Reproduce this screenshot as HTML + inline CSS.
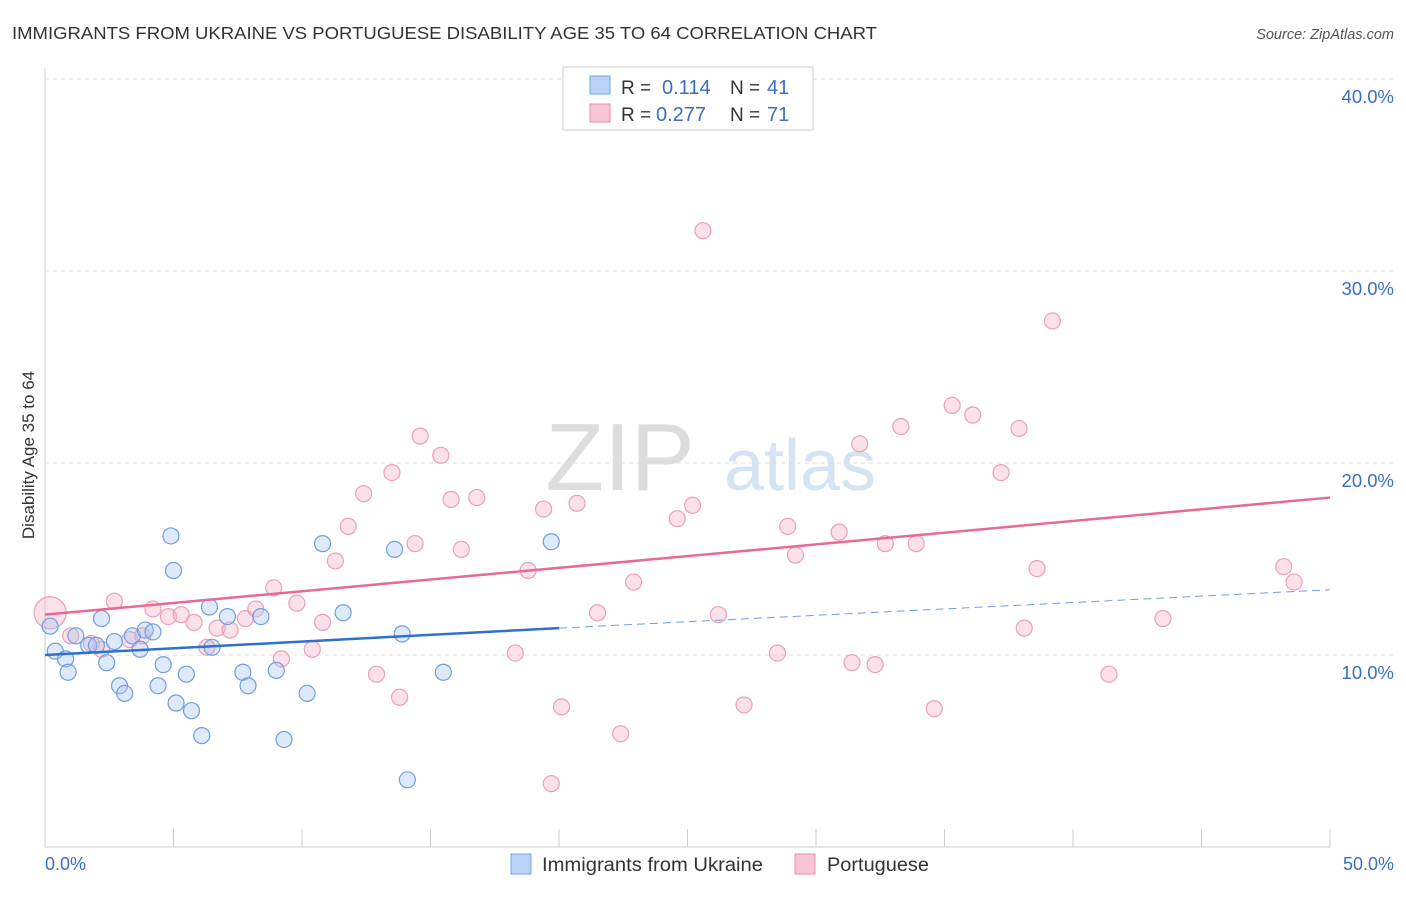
<!DOCTYPE html>
<html><head><meta charset="utf-8"><style>
body{margin:0;background:#fff;font-family:"Liberation Sans",sans-serif}
svg text{font-family:"Liberation Sans",sans-serif}
</style></head><body>
<svg id="c" width="1406" height="892">
<text x="12" y="39" font-size="17.5" fill="#333" textLength="865" lengthAdjust="spacingAndGlyphs">IMMIGRANTS FROM UKRAINE VS PORTUGUESE DISABILITY AGE 35 TO 64 CORRELATION CHART</text>
<text x="1394" y="39" font-size="14.5" fill="#555" font-style="italic" text-anchor="end">Source: ZipAtlas.com</text>
<text x="620" y="490" font-size="96" fill="#ddd" font-family="Liberation Serif" text-anchor="middle">ZIP</text>
<text x="800" y="490" font-size="72" fill="#d5e3f3" text-anchor="middle">atlas</text>
<g id="grid"></g><g id="pts"></g><g id="lines"></g>
<text x="34" y="455" font-size="17" fill="#333" text-anchor="middle" transform="rotate(-90 34 455)">Disability Age 35 to 64</text>
<text x="45" y="870" font-size="18" fill="#3a6fc4">0.0%</text>
<text x="1394" y="870" font-size="18" fill="#3a6fc4" text-anchor="end">50.0%</text>
<g>
<rect x="563" y="67" width="250" height="63" fill="#fff" stroke="#ccc"/>
<rect x="590" y="76" width="20" height="18" fill="#b8d3f5" stroke="#7aa6e0"/>
<rect x="590" y="104" width="20" height="18" fill="#f9c4d4" stroke="#e891ad"/>
<text x="621" y="94" font-size="19" fill="#333">R =</text>
<text x="662" y="94" font-size="20" fill="#3a6fc4">0.114</text>
<text x="730" y="94" font-size="19" fill="#333">N =</text>
<text x="767" y="94" font-size="20" fill="#3a6fc4">41</text>
<text x="621" y="121" font-size="19" fill="#333">R =</text>
<text x="656" y="121" font-size="20" fill="#3a6fc4">0.277</text>
<text x="730" y="121" font-size="19" fill="#333">N =</text>
<text x="767" y="121" font-size="20" fill="#3a6fc4">71</text>
</g>
<g>
<rect x="511" y="854" width="20" height="20" fill="#b8d3f5" stroke="#7aa6e0"/>
<text x="542" y="871" font-size="19" fill="#333" textLength="221" lengthAdjust="spacingAndGlyphs">Immigrants from Ukraine</text>
<rect x="795" y="854" width="20" height="20" fill="#f9c4d4" stroke="#e891ad"/>
<text x="827" y="871" font-size="19" fill="#333" textLength="102" lengthAdjust="spacingAndGlyphs">Portuguese</text>
</g>
</svg>
<script>
const yTicks=[10,20,30,40];
const xTicks=[0,5,10,15,20,25,30,35,40,45,50];
const blueX=[0.2,0.4,0.8,0.9,1.2,1.7,2.0,2.2,2.4,2.7,2.9,3.1,3.4,3.7,3.9,4.2,4.4,4.6,4.9,5.0,5.1,5.5,5.7,6.1,6.4,6.5,7.1,7.7,7.9,8.4,9.0,9.3,10.2,10.8,11.6,13.6,13.9,14.1,15.5,19.7];
const blueY=[11.5,10.2,9.8,9.1,11.0,10.5,10.5,11.9,9.6,10.7,8.4,8.0,11.0,10.3,11.3,11.2,8.4,9.5,16.2,14.4,7.5,9.0,7.1,5.8,12.5,10.4,12.0,9.1,8.4,12.0,9.2,5.6,8.0,15.8,12.2,15.5,11.1,3.5,9.1,15.9];
const pinkX=[0.2,1.0,1.8,2.2,2.7,3.3,3.8,4.2,4.8,5.3,5.8,6.3,6.7,7.2,7.8,8.2,8.9,9.2,9.8,10.4,10.8,11.3,11.8,12.4,12.9,13.5,13.8,14.4,14.6,15.4,15.8,16.2,16.8,18.3,18.8,19.4,20.1,20.7,21.5,22.4,22.9,24.6,25.2,25.6,26.2,27.2,28.5,28.9,29.2,30.9,31.4,31.7,32.3,32.7,33.3,33.9,34.6,35.3,36.1,37.2,37.9,38.1,38.6,39.2,41.4,43.5,48.2,48.6,19.7];
const pinkY=[12.2,11.0,10.6,10.3,12.8,10.8,11.0,12.4,12.0,12.1,11.7,10.4,11.4,11.3,11.9,12.4,13.5,9.8,12.7,10.3,11.7,14.9,16.7,18.4,9.0,19.5,7.8,15.8,21.4,20.4,18.1,15.5,18.2,10.1,14.4,17.6,7.3,17.9,12.2,5.9,13.8,17.1,17.8,32.1,12.1,7.4,10.1,16.7,15.2,16.4,9.6,21.0,9.5,15.8,21.9,15.8,7.2,23.0,22.5,19.5,21.8,11.4,14.5,27.4,9.0,11.9,14.6,13.8,3.3];
const blueTrend=[[0,10.0],[20,11.4],[50,13.4]];
const pinkTrend=[[0,12.1],[50,18.2]];
const X=v=>45+v*25.7, Y=v=>847-v*19.2;
const NS='http://www.w3.org/2000/svg';
function mk(t,a,p){const e=document.createElementNS(NS,t);for(const k in a)e.setAttribute(k,a[k]);p.appendChild(e);return e;}
const g=document.getElementById('grid');
mk('line',{x1:45,y1:68,x2:45,y2:847,stroke:'#ccc'},g);
mk('line',{x1:45,y1:847,x2:1330,y2:847,stroke:'#ccc'},g);
mk('line',{x1:45,y1:79,x2:1394,y2:79,stroke:'#ddd','stroke-dasharray':'4,4'},g);
yTicks.forEach(t=>{
 const l=mk('line',{x1:45,y1:Y(t),x2:1394,y2:Y(t),stroke:'#ddd','stroke-dasharray':'4,4'},g);
 
 
 const tx=mk('text',{x:1394,y:Y(t)+24,'font-size':18.5,fill:'#3a6fc4','text-anchor':'end'},g);
 tx.textContent=t.toFixed(1)+'%';
 
 
});
xTicks.forEach(t=>{
 const l=mk('line',{x1:X(t),y1:829,x2:X(t),y2:847,stroke:'#ccc'},g);
 
 
});
const p=document.getElementById('pts');
pinkX.forEach((v,i)=>{
 const c=mk('circle',{cx:X(v),cy:Y(pinkY[i]),r:i==0?16:8,fill:'rgba(245,170,195,0.35)',stroke:'#eaa0b8','stroke-width':1.2},p);
 
 
});
blueX.forEach((v,i)=>{
 const c=mk('circle',{cx:X(v),cy:Y(blueY[i]),r:8,fill:'rgba(160,195,240,0.35)',stroke:'#6f9ee0','stroke-width':1.2},p);
 
 
});
const L=document.getElementById('lines');
let a=mk('line',{x1:X(blueTrend[0][0]),y1:Y(blueTrend[0][1]),x2:X(blueTrend[1][0]),y2:Y(blueTrend[1][1]),stroke:'#2f6fd0','stroke-width':2.5},L);


a=mk('line',{x1:X(blueTrend[1][0]),y1:Y(blueTrend[1][1]),x2:X(blueTrend[2][0]),y2:Y(blueTrend[2][1]),stroke:'#6f9ee0','stroke-width':1,'stroke-dasharray':'8,5'},L);


a=mk('line',{x1:X(pinkTrend[0][0]),y1:Y(pinkTrend[0][1]),x2:X(pinkTrend[1][0]),y2:Y(pinkTrend[1][1]),stroke:'#e86a94','stroke-width':2.5},L);


</script>
</body></html>
